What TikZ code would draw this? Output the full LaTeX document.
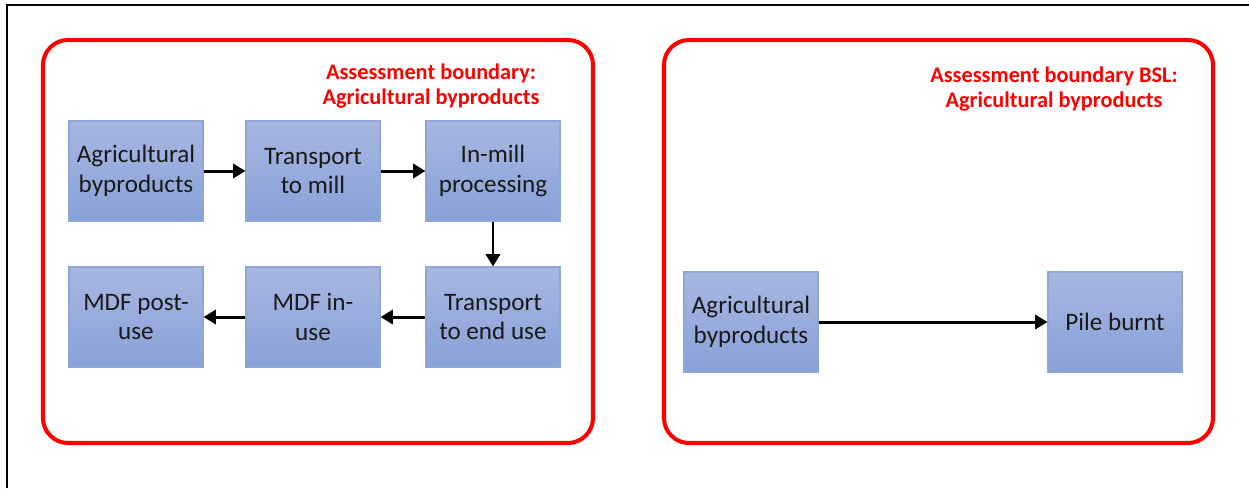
\documentclass[tikz,border=0pt]{standalone}
\usepackage{fontspec}
\setmainfont{Carlito}
\usetikzlibrary{arrows.meta}

\definecolor{boxtop}{HTML}{A8B7E1}
\definecolor{boxbot}{HTML}{88A1D8}
\definecolor{boxline}{HTML}{8FA6DA}

\tikzset{
  stage/.style={draw=boxline, line width=0.6pt, top color=boxtop, bottom color=boxbot,
    minimum width=2.68cm, minimum height=2cm, align=center, inner sep=2pt,
    font=\fontsize{14.3pt}{17pt}\selectfont, text=black!90},
  boundary/.style={draw=red, line width=2.3pt, rounded corners=0.5cm},
  title/.style={text=red, align=center, font=\fontsize{12.7pt}{14.3pt}\selectfont\bfseries},
  flow/.style={-{Triangle[length=7pt,width=8pt]}, line width=1.7pt}
}

\begin{document}
\begin{tikzpicture}[x=0.02cm, y=-0.02cm]
  \useasboundingbox (0,0) rectangle (1249,488);

  % frame
  \draw[line width=1.5pt] (7,488) -- (7,5) -- (1249,5);

  % boundaries
  \draw[boundary] (43,40) rectangle (593,443);
  \draw[boundary] (664,40) rectangle (1213,443);
  \node[title] (t1) at (431,86) {Assessment boundary:\\Agricultural byproducts};
  \node[title] (t2) at (1054,89) {Assessment boundary BSL:\\Agricultural byproducts};

  % project chain
  \node[stage] (agri) at (136,171) {Agricultural\\byproducts};
  \node[stage] (tmill) at (313,171) {Transport\\to mill};
  \node[stage] (proc) at (493,171) {In-mill\\processing};
  \node[stage] (tend) at (493,317) {Transport\\to end use};
  \node[stage] (inuse) at (313,317) {MDF in-\\use};
  \node[stage] (post) at (136,317) {MDF post-\\use};

  \draw[flow] (agri) -- (tmill);
  \draw[flow] (tmill) -- (proc);
  \draw[flow] (proc) -- (tend);
  \draw[flow] (tend) -- (inuse);
  \draw[flow] (inuse) -- (post);

  % baseline
  \node[stage] (bagri) at (751,322) {Agricultural\\byproducts};
  \node[stage] (burnt) at (1115,322) {Pile burnt};
  \draw[flow] (bagri) -- (burnt);
\end{tikzpicture}
\end{document}
